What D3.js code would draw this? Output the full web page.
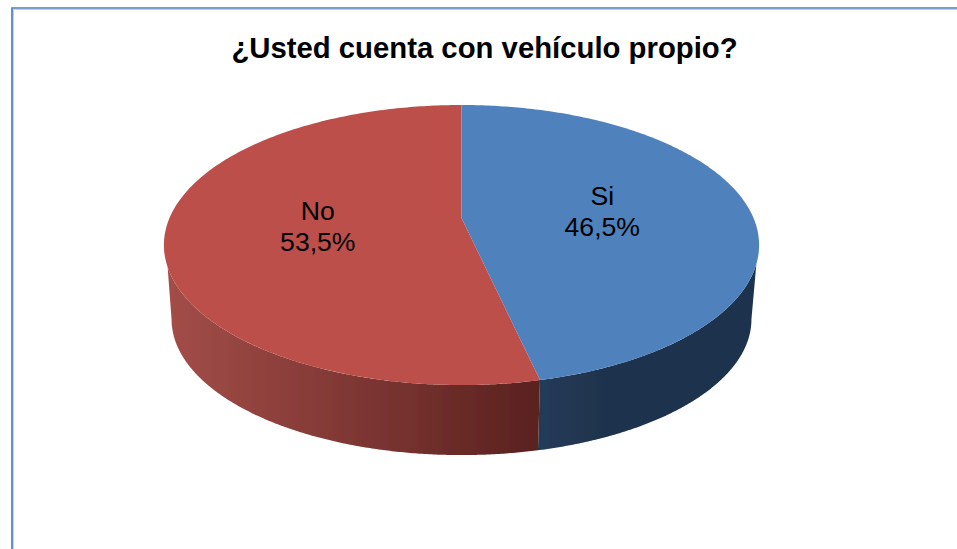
<!DOCTYPE html>
<html>
<head>
<meta charset="utf-8">
<script src="https://cdn.jsdelivr.net/npm/d3@7/dist/d3.min.js"></script>
<style>html,body{margin:0;padding:0;background:#fff;overflow:hidden}svg{display:block}</style>
</head>
<body>
<svg id="c" width="957" height="549"></svg>
<script>
const titleText = "¿Usted cuenta con vehículo propio?";
const categories = ["Si", "No"];
const values = [46.5, 53.5];
const valueLabels = ["46,5%", "53,5%"];
const topColors = ["#4F81BD", "#BD4F4C"];
const sideStops = [["#233B59", "#1F334D"], ["#A34D48", "#5A211F"]];

const svg = d3.select("#c");
const W = 957, H = 549;
const cx = 461.5, persp = 0.193, lblR = 0.49, N = 240;
const topDisc = {y0: 218, A: 292, B: 134.8};
const botDisc = {y0: 293, A: 284.5, B: 130.8};
const project = (d, th, r = 1) => {
  const u = r * Math.sin(th), v = -r * Math.cos(th), w = 1 - persp * v;
  return [cx + d.A * u / w, d.y0 + d.B * v / w];
};
const samples = (d, a, b) => d3.range(N + 1).map(i => project(d, a + (b - a) * i / N));
const line = d3.line().curve(d3.curveLinear);

const pie = d3.pie().sort(null).value(v => v)(values);
// angles where the side wall becomes visible: top silhouette and bottom silhouette
const topR = Math.PI - Math.acos(0.32), botR = Math.PI - Math.acos(persp);
const topL = Math.PI + Math.acos(0.34), botL = Math.PI + Math.acos(persp);

const defs = svg.append("defs");
const blur = defs.append("filter").attr("id", "soft").attr("x", "-5%").attr("y", "-5%").attr("width", "110%").attr("height", "110%");
blur.append("feGaussianBlur").attr("stdDeviation", 0.35);

const gr0 = defs.append("linearGradient").attr("id", "side0");
gr0.append("stop").attr("offset", 0).attr("stop-color", sideStops[0][0]);
gr0.append("stop").attr("offset", 0.3).attr("stop-color", sideStops[0][1]);
gr0.append("stop").attr("offset", 1).attr("stop-color", sideStops[0][1]);
const gr1 = defs.append("linearGradient").attr("id", "side1");
gr1.append("stop").attr("offset", 0).attr("stop-color", sideStops[1][0]);
gr1.append("stop").attr("offset", 1).attr("stop-color", sideStops[1][1]);

// frame
svg.append("rect").attr("width", W).attr("height", H).attr("fill", "#fff");
const frame = svg.append("g").attr("fill", "none");
frame.append("path").attr("d", `M${W},9.4H13.4V${H}`).attr("stroke", "#B9CDE5").attr("stroke-width", 1);
frame.append("path").attr("d", `M${W},8H12V${H}`).attr("stroke", "#4F7FB9").attr("stroke-width", 1.7);

// walls
const g = svg.append("g").attr("filter", "url(#soft)");
const split = pie[0].endAngle;
g.append("path").attr("fill", "url(#side0)")
  .attr("d", line(samples(topDisc, topR, split).concat(samples(botDisc, split, botR))) + "Z");
g.append("path").attr("fill", "url(#side1)")
  .attr("d", line(samples(topDisc, split, topL).concat(samples(botDisc, botL, split))) + "Z");

// top faces
g.selectAll("path.face").data(pie).join("path").attr("class", "face")
  .attr("fill", (d, i) => topColors[i])
  .attr("d", d => line([project(topDisc, 0, 0)].concat(samples(topDisc, d.startAngle, d.endAngle))) + "Z");

// title
svg.append("text").attr("x", 484.5).attr("y", 58).attr("text-anchor", "middle")
  .attr("font-family", "Liberation Sans").attr("font-weight", "bold").attr("font-size", 29.3)
  .attr("fill", "#000").text(titleText);

// labels
const lbl = svg.selectAll("text.lbl").data(pie).join("text").attr("class", "lbl")
  .attr("text-anchor", "middle").attr("font-family", "Liberation Sans").attr("font-size", 26.6).attr("fill", "#000")
  .attr("transform", d => {
    const p = project(topDisc, (d.startAngle + d.endAngle) / 2, lblR);
    return `translate(${p[0]},${p[1]})`;
  });
lbl.append("tspan").attr("x", 0).attr("y", -5.5).text((d, i) => categories[i]);
lbl.append("tspan").attr("x", 0).attr("y", 25.5).text((d, i) => valueLabels[i]);
</script>
</body>
</html>
